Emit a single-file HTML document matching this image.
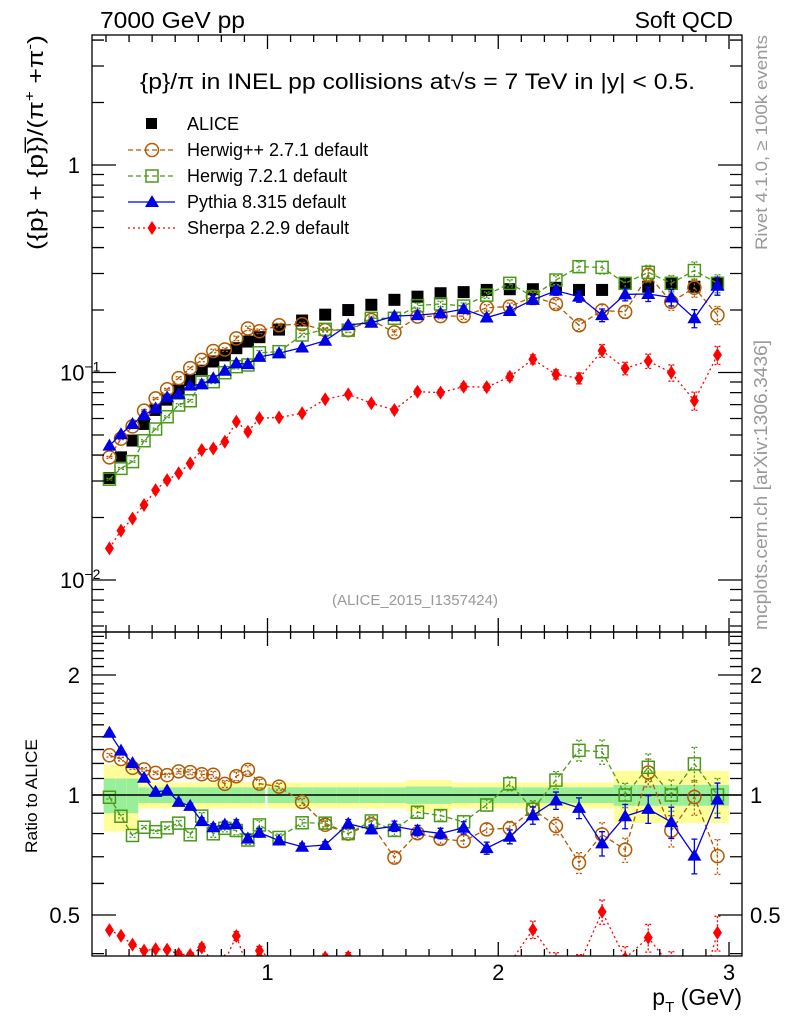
<!DOCTYPE html>
<html><head><meta charset="utf-8">
<style>
html,body{margin:0;padding:0;background:#fff;}
svg{display:block;font-family:"Liberation Sans",sans-serif;}
</style></head>
<body>
<svg id="chart" width="786" height="1024" viewBox="0 0 786 1024" xmlns="http://www.w3.org/2000/svg">
  <text x="100" y="28" font-size="23" textLength="145" lengthAdjust="spacingAndGlyphs">7000 GeV pp</text>
  <text x="733" y="28" font-size="23" text-anchor="end">Soft QCD</text>
  <text x="140" y="89" font-size="22" textLength="555" lengthAdjust="spacingAndGlyphs">{p}/π in INEL pp collisions at√s =  7 TeV in |y| &lt; 0.5.</text>
  <text x="415" y="605" font-size="15" fill="#999" text-anchor="middle">(ALICE_2015_I1357424)</text>
  <text transform="translate(767,250) rotate(-90)" font-size="17" fill="#999" textLength="215" lengthAdjust="spacingAndGlyphs">Rivet 4.1.0, ≥ 100k events</text>
  <text transform="translate(767,630) rotate(-90)" font-size="18" fill="#999" textLength="290" lengthAdjust="spacingAndGlyphs">mcplots.cern.ch [arXiv:1306.3436]</text>
  <text transform="translate(43,250) rotate(-90)" font-size="22" textLength="215" lengthAdjust="spacingAndGlyphs">({p} + {p}̅)/(π<tspan dy="-9" font-size="14">+</tspan><tspan dy="9"> +π</tspan><tspan dy="-9" font-size="14">-</tspan><tspan dy="9">)</tspan></text>
  <text transform="translate(37,853) rotate(-90)" font-size="17" textLength="114" lengthAdjust="spacingAndGlyphs">Ratio to ALICE</text>
  <text x="742" y="1005" font-size="23" text-anchor="end">p<tspan dy="7" font-size="15">T</tspan><tspan dy="-7"> (GeV)</tspan></text>
  <g id="plots"></g>
  <g id="legend"></g>
</svg>
<script>
const pT = [0.315,0.365,0.415,0.465,0.515,0.565,0.615,0.665,0.715,0.765,0.815,0.865,0.915,0.965,1.05,1.15,1.25,1.35,1.45,1.55,1.65,1.75,1.85,1.95,2.05,2.15,2.25,2.35,2.45,2.55,2.65,2.75,2.85,2.95];
const alice = [0.031,0.039,0.047,0.0565,0.066,0.074,0.082,0.092,0.102,0.113,0.121,0.131,0.141,0.148,0.161,0.178,0.19,0.20,0.212,0.224,0.232,0.241,0.244,0.25,0.252,0.252,0.256,0.25,0.25,0.269,0.259,0.269,0.259,0.269];
const herwigpp = [0.039,0.048,0.055,0.0655,0.075,0.083,0.094,0.105,0.115,0.127,0.129,0.146,0.163,0.158,0.169,0.171,0.160,0.160,0.179,0.156,0.186,0.187,0.187,0.205,0.208,0.232,0.214,0.169,0.199,0.196,0.295,0.219,0.256,0.189];
const herwig7 = [0.0306,0.0345,0.0372,0.0469,0.0534,0.0612,0.0697,0.0731,0.0903,0.0903,0.0998,0.1067,0.1087,0.1245,0.126,0.1516,0.1615,0.160,0.1825,0.1825,0.21,0.214,0.209,0.236,0.269,0.232,0.279,0.3236,0.321,0.269,0.304,0.269,0.31,0.269];
const pythia = [0.0444,0.0504,0.0565,0.0624,0.0672,0.076,0.0788,0.0864,0.0877,0.0938,0.102,0.1108,0.1097,0.119,0.1238,0.132,0.1423,0.1694,0.1738,0.187,0.189,0.193,0.202,0.184,0.198,0.224,0.248,0.232,0.189,0.238,0.239,0.230,0.1825,0.262];
const sherpa = [0.0142,0.0173,0.0198,0.023,0.0271,0.0303,0.0327,0.0365,0.0423,0.043,0.0464,0.058,0.0518,0.0602,0.0607,0.0636,0.0743,0.0785,0.0711,0.066,0.0808,0.080,0.0855,0.085,0.0954,0.1158,0.098,0.0938,0.1274,0.1047,0.1136,0.0998,0.0731,0.1214];
const mcErr = [0.01,0.01,0.01,0.01,0.01,0.01,0.015,0.015,0.02,0.02,0.02,0.025,0.025,0.025,0.02,0.02,0.02,0.025,0.025,0.03,0.03,0.03,0.035,0.035,0.04,0.05,0.05,0.06,0.07,0.07,0.08,0.09,0.1,0.1];
const totBand = [0.19,0.19,0.19,0.075,0.075,0.075,0.075,0.075,0.075,0.075,0.075,0.075,0.075,0.075,0.075,0.075,0.075,0.075,0.075,0.075,0.09,0.09,0.075,0.075,0.075,0.075,0.075,0.075,0.075,0.15,0.15,0.15,0.15,0.15];
const statBand = [0.1,0.1,0.1,0.045,0.045,0.045,0.045,0.045,0.045,0.045,0.045,0.045,0.045,0.045,0.045,0.045,0.045,0.045,0.045,0.045,0.05,0.05,0.045,0.045,0.045,0.045,0.045,0.045,0.045,0.06,0.06,0.06,0.06,0.06];
const xTicks = [1,2,3];
const mainTickLabels = ["1","10","10"];
const ratioTicks = [2,1,0.5];

const NS='http://www.w3.org/2000/svg';
const L=92,R=742,T=35,MB=632,RB=956;
const X=v=>267.5+(v-1)*230.75;
const Y=v=>165-207.5*Math.log10(v);
const YR=v=>795-398.6*Math.log10(v);
const g=document.getElementById('plots');
function el(tag,at,par){const e=document.createElementNS(NS,tag);for(const k in at)e.setAttribute(k,at[k]);(par||g).appendChild(e);return e;}

for(let i=0;i<pT.length;i++){
  const x0=i<14?X(pT[i]-0.025):X(pT[i]-0.05), x1=i<14?X(pT[i]+0.025):X(pT[i]+0.05);
  const y=el('rect',{x:x0,y:YR(1+totBand[i]),width:x1-x0,height:YR(1-totBand[i])-YR(1+totBand[i]),fill:'#ffff99'});
  
  
  const gr=el('rect',{x:x0,y:YR(1+statBand[i]),width:x1-x0,height:YR(1-statBand[i])-YR(1+statBand[i]),fill:'#99ee99'});
  
  
}
const one=el('line',{x1:L,x2:R,y1:YR(1),y2:YR(1),stroke:'#000','stroke-width':1.5});



const defs=el('defs',{});
const c1=el('clipPath',{id:'cm'},defs);el('rect',{x:L,y:T,width:R-L,height:MB-T},c1);
const c2=el('clipPath',{id:'cr'},defs);el('rect',{x:L,y:MB,width:R-L,height:RB-MB},c2);

function marker(par,type,x,y,color){
  let m;
  if(type==='sq') m=el('rect',{x:x-6,y:y-6,width:12,height:12,fill:'#000'},par);
  else if(type==='circ') m=el('circle',{cx:x,cy:y,r:6.5,fill:'none',stroke:color,'stroke-width':1.5},par);
  else if(type==='osq') m=el('rect',{x:x-6,y:y-6,width:12,height:12,fill:'none',stroke:color,'stroke-width':1.5},par);
  else if(type==='tri') m=el('polygon',{points:`${x},${y-7} ${x-7},${y+5} ${x+7},${y+5}`,fill:color},par);
  else m=el('polygon',{points:`${x},${y-7} ${x-4.5},${y} ${x},${y+7} ${x+4.5},${y}`,fill:color},par);
  return m;
}
const series=[
  {name:'herwigpp',data:herwigpp,color:'#b35900',type:'circ',dash:'5,3'},
  {name:'herwig7',data:herwig7,color:'#4a9a1a',type:'osq',dash:'5,3'},
  {name:'pythia',data:pythia,color:'#0000e6',type:'tri',dash:''},
  {name:'sherpa',data:sherpa,color:'#ff0000',type:'dia',dash:'2,3'}
];
const ga=el('g',{'clip-path':'url(#cm)'});


for(let i=0;i<pT.length;i++){const m=marker(ga,'sq',X(pT[i]),Y(alice[i]));
  
  }

for(const s of series){
  for(const panel of ['main','ratio']){
    const gg=el('g',{'clip-path':panel==='main'?'url(#cm)':'url(#cr)'});
    
    
    const yf=panel==='main'?(i=>Y(s.data[i])):(i=>YR(s.data[i]/alice[i]));
    const vf=panel==='main'?(i=>s.data[i]):(i=>s.data[i]/alice[i]);
    const yfv=panel==='main'?Y:YR;
    const pts=pT.map((p,i)=>X(p)+','+yf(i)).join(' ');
    const ln=el('polyline',{points:pts,fill:'none',stroke:s.color,'stroke-width':1.3,'stroke-dasharray':s.dash},gg);
    
    
    for(let i=0;i<pT.length;i++){
      const v=vf(i),x=X(pT[i]);
      const e=el('path',{d:`M${x},${yfv(v*(1+mcErr[i]))}V${yfv(v*(1-mcErr[i]))}M${x-3},${yfv(v*(1+mcErr[i]))}h6M${x-3},${yfv(v*(1-mcErr[i]))}h6`,stroke:s.color,'stroke-width':1.3,'stroke-dasharray':s.dash?'2,2':'',fill:'none'},gg);
      
      
      const m=marker(gg,s.type,x,yf(i),s.color);
      
      
    }
  }
}

const ax=el('g',{stroke:'#000','stroke-width':1.3,fill:'none'});


el('rect',{x:L,y:T,width:R-L,height:MB-T},ax);
el('rect',{x:L,y:MB,width:R-L,height:RB-MB},ax);
let d='';
for(let v=0.3;v<=3.051;v+=0.1){const x=X(v);const maj=Math.abs(v-Math.round(v))<0.01;const len=maj?14:7;
  d+=`M${x},${MB}v${-len}M${x},${T}v${len}M${x},${RB}v${-len}M${x},${MB}v${len}`;}
for(let dec=-3;dec<=0;dec++)for(let k=1;k<=9;k++){const v=k*Math.pow(10,dec);const y=Y(v);if(y<T||y>MB)continue;const len=k===1?24:12;
  d+=`M${L},${y}h${len}M${R},${y}h${-len}`;}
for(let k=4;k<=25;k++){const v=k/10;const y=YR(v);if(y<MB||y>RB)continue;const maj=(k===5||k===10||k===20);const len=maj?24:12;
  d+=`M${L},${y}h${len}M${R},${y}h${-len}`;}
el('path',{d:d},ax);

const tl=el('g',{'font-size':'22',fill:'#000'});


xTicks.forEach(v=>{const t=el('text',{x:X(v),y:980,'text-anchor':'middle'},tl);t.textContent=v;
  
  });
const mv=[1,0.1,0.01];
mv.forEach((v,i)=>{const t=el('text',{x:i===0?80:60,y:Y(v)+8,'text-anchor':i===0?'end':'start'},tl);
  t.textContent=mainTickLabels[i];
  
  
  if(i>0){const s=el('tspan',{dy:-9,'font-size':'14'},t);s.textContent=i===1?'−1':'−2';}});
ratioTicks.forEach(v=>{
  const t=el('text',{x:80,y:YR(v)+8,'text-anchor':'end'},tl);t.textContent=v;
  
  
  const t2=el('text',{x:750,y:YR(v)+8},tl);t2.textContent=v;
  
  });

const lg=document.getElementById('legend');
const entries=[{label:'ALICE',type:'sq',color:'#000',dash:null},
 {label:'Herwig++ 2.7.1 default',type:'circ',color:'#b35900',dash:'5,3'},
 {label:'Herwig 7.2.1 default',type:'osq',color:'#4a9a1a',dash:'5,3'},
 {label:'Pythia 8.315 default',type:'tri',color:'#0000e6',dash:''},
 {label:'Sherpa 2.2.9 default',type:'dia',color:'#ff0000',dash:'2,3'}];
entries.forEach((e,i)=>{
  const y=124+i*26;
  const gg=el('g',{},lg);
  
  
  if(e.dash!==null) el('line',{x1:128,x2:175,y1:y,y2:y,stroke:e.color,'stroke-width':1.3,'stroke-dasharray':e.dash},gg);
  const m=marker(gg,e.type,152,y,e.color);
  if(e.type==='sq'){m.setAttribute('x',146);m.setAttribute('width',11);m.setAttribute('height',11);}
  const t=el('text',{x:187,y:y+6,'font-size':'18'},gg);t.textContent=e.label;
});
</script>
</body></html>
